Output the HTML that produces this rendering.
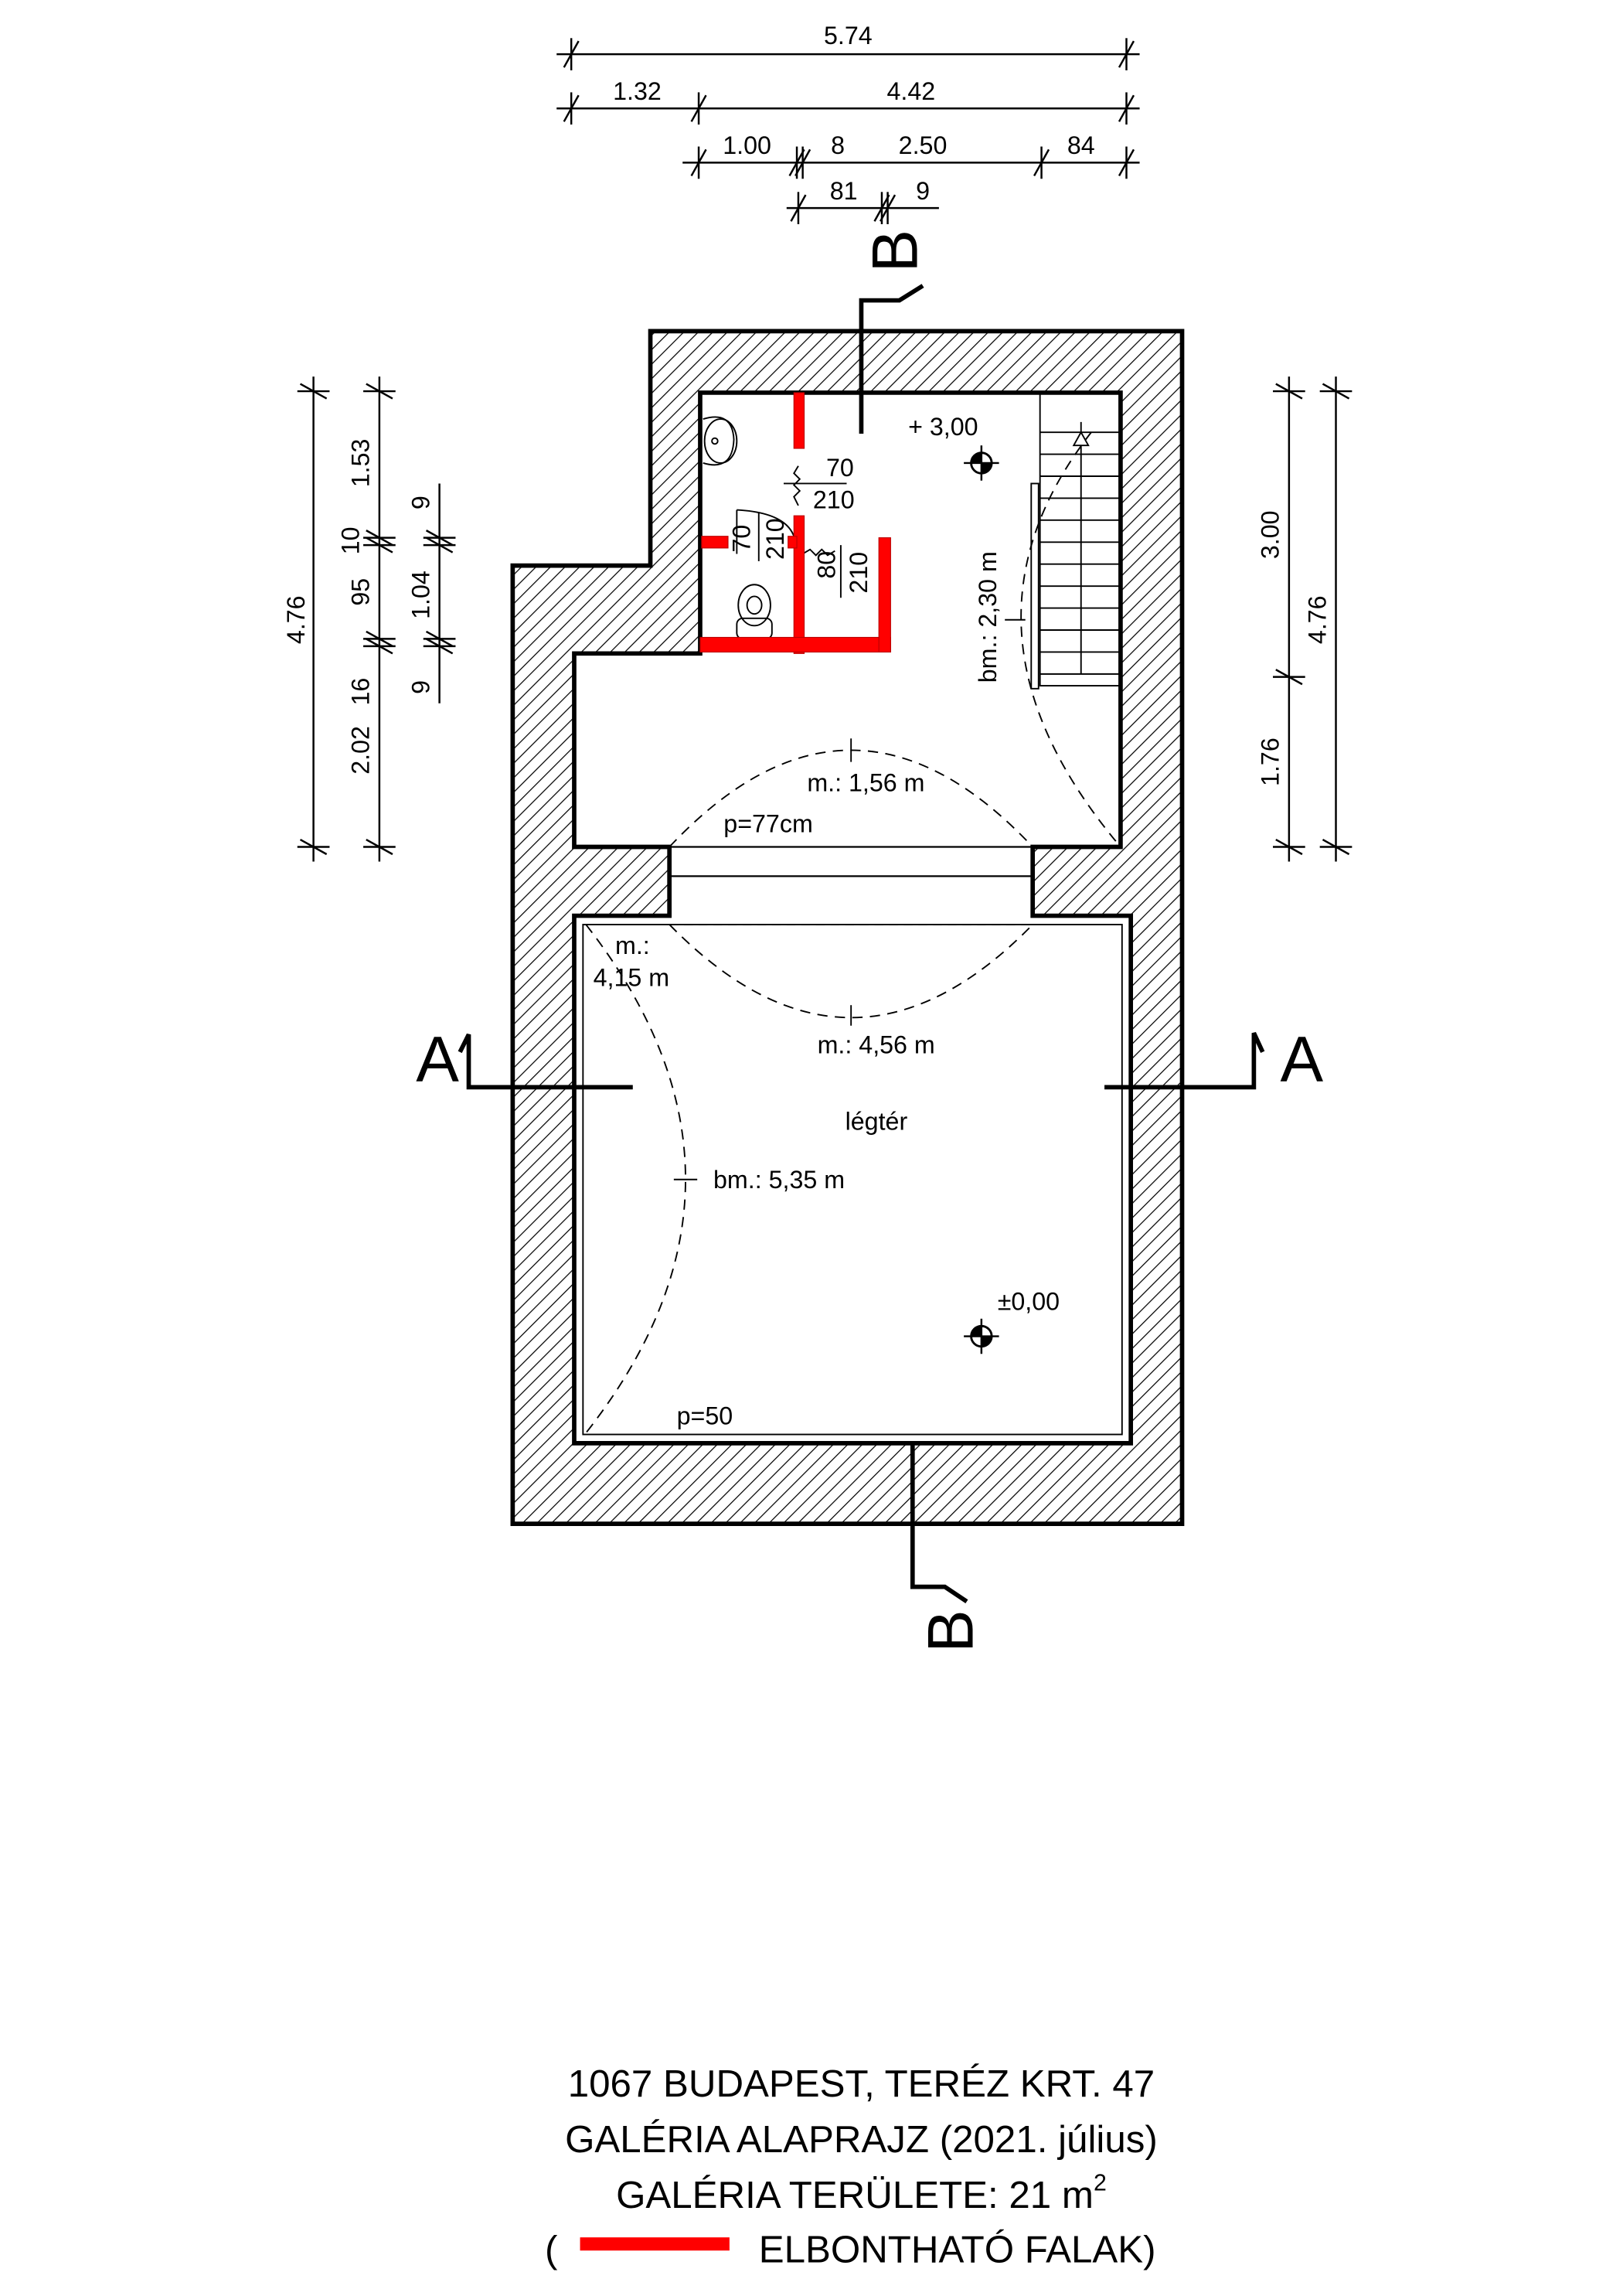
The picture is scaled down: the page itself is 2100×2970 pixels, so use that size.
<!DOCTYPE html>
<html><head><meta charset="utf-8"><style>
html,body{margin:0;padding:0;background:#fff;}
svg{display:block;}
text{font-family:"Liberation Sans",sans-serif;fill:#000;}
</style></head><body>
<svg width="2100" height="2970" viewBox="0 0 1108 1567" xmlns="http://www.w3.org/2000/svg">
<defs>
<pattern id="h" patternUnits="userSpaceOnUse" width="7" height="7" patternTransform="rotate(45)">
<rect width="7" height="7" fill="#fff"/><line x1="0" y1="0" x2="0" y2="7" stroke="#000" stroke-width="1.3"/></pattern>
<g id="th"><line x1="0" y1="-11" x2="0" y2="11" stroke="#000" stroke-width="1.3"/><line x1="-5" y1="9" x2="5" y2="-9" stroke="#000" stroke-width="1.3"/></g>
<g id="tv"><line x1="-11" y1="0" x2="11" y2="0" stroke="#000" stroke-width="1.3"/><line x1="-9" y1="-5" x2="9" y2="5" stroke="#000" stroke-width="1.3"/></g>
<g id="lv"><circle r="7" fill="#fff" stroke="#000" stroke-width="1.5"/><path d="M0,0 L7,0 A7,7 0 0 1 0,7 Z M0,0 L-7,0 A7,7 0 0 1 0,-7Z" fill="#000"/><line x1="-12" y1="0" x2="12" y2="0" stroke="#000" stroke-width="1.3"/><line x1="0" y1="-12" x2="0" y2="12" stroke="#000" stroke-width="1.3"/></g>
</defs>

<path fill-rule="evenodd" fill="url(#h)" stroke="#000" stroke-width="3"
d="M444,226 L807,226 L807,1040 L350,1040 L350,386 L444,386 Z
M478,268 L765,268 L765,578 L705,578 L705,625 L772,625 L772,985 L392,985 L392,625 L457,625 L457,578 L392,578 L392,446 L478,446 Z"/>
<rect x="398" y="631" width="368" height="348" fill="none" stroke="#000" stroke-width="1"/>
<line x1="457" y1="578" x2="705" y2="578" stroke="#000" stroke-width="1.2"/>
<line x1="457" y1="598" x2="705" y2="598" stroke="#000" stroke-width="1.2"/>
<line x1="457" y1="631" x2="705" y2="631" stroke="#000" stroke-width="1" stroke-dasharray="6,4"/>

<g fill="none" stroke="#000" stroke-width="1" stroke-dasharray="7,5">
<path d="M457,578 Q581,446 705,578"/>
<path d="M457,631 Q581,758 705,631"/>
<path d="M400,631 Q536,805 400,978"/>
<path d="M745,295 Q640,430 765,578"/>
</g>
<g stroke="#000" stroke-width="1"><line x1="581" y1="504" x2="581" y2="520"/><line x1="581" y1="686" x2="581" y2="700"/><line x1="460" y1="805" x2="476" y2="805"/><line x1="686" y1="423" x2="700" y2="423"/></g>

<g stroke="#000" stroke-width="1" fill="none">
<rect x="710" y="268" width="55" height="200"/>
<path d="M710,310H765M710,325H765M710,340H765M710,355H765M710,370H765M710,385H765M710,400H765M710,415H765M710,430H765M710,445H765M710,460H765M710,295H765M738,288V460"/>
<rect x="704" y="330" width="5" height="140"/>
<polygon points="738,295 733,304 743,304" fill="#fff"/>
</g>

<g fill="none" stroke="#000" stroke-width="1">
<ellipse cx="492" cy="301" rx="11" ry="15"/><circle cx="488" cy="301" r="2"/>
<path d="M480,286 Q500,280 501,300 Q500,322 480,316"/>
<ellipse cx="515" cy="413" rx="11" ry="14"/><ellipse cx="515" cy="413" rx="5" ry="6"/>
<rect x="503" y="422" width="24" height="14" rx="4"/>
<path d="M503,348 Q540,350 543,370 M503,348 V378"/>
<line x1="535" y1="330" x2="578" y2="330"/><path d="M545,318 l-3,5 4,4 -4,4 4,4 -4,4 3,6"/>
<line x1="518" y1="350" x2="518" y2="383"/>
<line x1="574" y1="372" x2="574" y2="408"/><path d="M548,378 l5,-3 4,4 4,-4 4,4 5,-3"/>
</g>

<g fill="#f00" stroke="#b00" stroke-width="0.6">
<rect x="542" y="268" width="7" height="38"/>
<rect x="542" y="352" width="7" height="94"/>
<rect x="478" y="435" width="130" height="10"/>
<rect x="600" y="367" width="8" height="78"/>
<rect x="479" y="366" width="18" height="8"/>
<rect x="538" y="366" width="6" height="8"/>
</g>

<use href="#lv" x="670" y="316"/>
<use href="#lv" x="670" y="912"/>

<g stroke="#000" stroke-width="3" fill="none">
<path d="M588,296 V205 H614 L630,195"/>
<path d="M623,985 V1083 H645 L660,1093"/>
<path d="M432,742 H320 V706 L314,718"/>
<path d="M754,742 H856 V705 L862,718"/>
</g>
<text transform="translate(626,186) rotate(-90)" font-size="44">B</text>
<text transform="translate(664,1128) rotate(-90)" font-size="44">B</text>
<text x="284" y="738" font-size="44">A</text>
<text x="874" y="738" font-size="44">A</text>

<g stroke="#000" stroke-width="1.3">
<line x1="380" y1="37" x2="778" y2="37"/><line x1="380" y1="74" x2="778" y2="74"/>
<line x1="466" y1="111" x2="778" y2="111"/><line x1="537" y1="142" x2="641" y2="142"/>
</g>
<use href="#th" x="390" y="37"/><use href="#th" x="769" y="37"/>
<use href="#th" x="390" y="74"/><use href="#th" x="477" y="74"/><use href="#th" x="769" y="74"/>
<use href="#th" x="477" y="111"/><use href="#th" x="544" y="111"/><use href="#th" x="548" y="111"/><use href="#th" x="711" y="111"/><use href="#th" x="769" y="111"/>
<use href="#th" x="545" y="142"/><use href="#th" x="602" y="142"/><use href="#th" x="606" y="142"/>
<g font-size="17" text-anchor="middle">
<text x="579" y="30">5.74</text><text x="435" y="68">1.32</text><text x="622" y="68">4.42</text>
<text x="510" y="105">1.00</text><text x="572" y="105">8</text><text x="630" y="105">2.50</text><text x="738" y="105">84</text>
<text x="576" y="136">81</text><text x="630" y="136">9</text>
</g>

<g stroke="#000" stroke-width="1.3">
<line x1="214" y1="257" x2="214" y2="588"/><line x1="259" y1="257" x2="259" y2="588"/><line x1="300" y1="330" x2="300" y2="480"/>
<line x1="880" y1="257" x2="880" y2="588"/><line x1="912" y1="257" x2="912" y2="588"/>
</g>
<use href="#tv" x="214" y="267"/><use href="#tv" x="214" y="578"/>
<use href="#tv" x="259" y="267"/><use href="#tv" x="259" y="367"/><use href="#tv" x="259" y="372"/><use href="#tv" x="259" y="436"/><use href="#tv" x="259" y="441"/><use href="#tv" x="259" y="578"/>
<use href="#tv" x="300" y="367"/><use href="#tv" x="300" y="372"/><use href="#tv" x="300" y="436"/><use href="#tv" x="300" y="441"/>
<use href="#tv" x="880" y="267"/><use href="#tv" x="880" y="462"/><use href="#tv" x="880" y="578"/>
<use href="#tv" x="912" y="267"/><use href="#tv" x="912" y="578"/>
<g font-size="17" text-anchor="middle">
<text transform="translate(208,423) rotate(-90)">4.76</text>
<text transform="translate(252,316) rotate(-90)">1.53</text>
<text transform="translate(245,369) rotate(-90)">10</text>
<text transform="translate(252,404) rotate(-90)">95</text>
<text transform="translate(252,472) rotate(-90)">16</text>
<text transform="translate(252,512) rotate(-90)">2.02</text>
<text transform="translate(293,343) rotate(-90)">9</text>
<text transform="translate(293,406) rotate(-90)">1.04</text>
<text transform="translate(293,469) rotate(-90)">9</text>
<text transform="translate(873,365) rotate(-90)">3.00</text>
<text transform="translate(873,520) rotate(-90)">1.76</text>
<text transform="translate(905,423) rotate(-90)">4.76</text>
</g>

<g font-size="17">
<text x="620" y="297">+ 3,00</text>
<text transform="translate(680,466) rotate(-90)">bm.: 2,30 m</text>
<text x="564" y="325">70</text><text x="555" y="347">210</text>
<text transform="translate(512,377) rotate(-90)">70</text>
<text transform="translate(535,382) rotate(-90)">210</text>
<text transform="translate(570,395) rotate(-90)">80</text>
<text transform="translate(592,405) rotate(-90)">210</text>
<text x="551" y="540">m.: 1,56 m</text>
<text x="494" y="568">p=77cm</text>
<text x="420" y="651">m.:</text>
<text x="405" y="673">4,15 m</text>
<text x="558" y="719">m.: 4,56 m</text>
<text x="577" y="771">légtér</text>
<text x="487" y="811">bm.: 5,35 m</text>
<text x="681" y="894">±0,00</text>
<text x="462" y="972">p=50</text>
</g>

<g font-size="26" text-anchor="middle">
<text x="588" y="1431">1067 BUDAPEST, TERÉZ KRT. 47</text>
<text x="588" y="1469">GALÉRIA ALAPRAJZ (2021. július)</text>
<text x="588" y="1507">GALÉRIA TERÜLETE: 21 m<tspan font-size="16" dy="-12">2</tspan></text>
</g>
<text x="372" y="1544" font-size="26">(</text>
<rect x="396" y="1527" width="102" height="9" fill="#f00"/>
<text x="518" y="1544" font-size="26">ELBONTHATÓ FALAK)</text>
</svg>
</body></html>
